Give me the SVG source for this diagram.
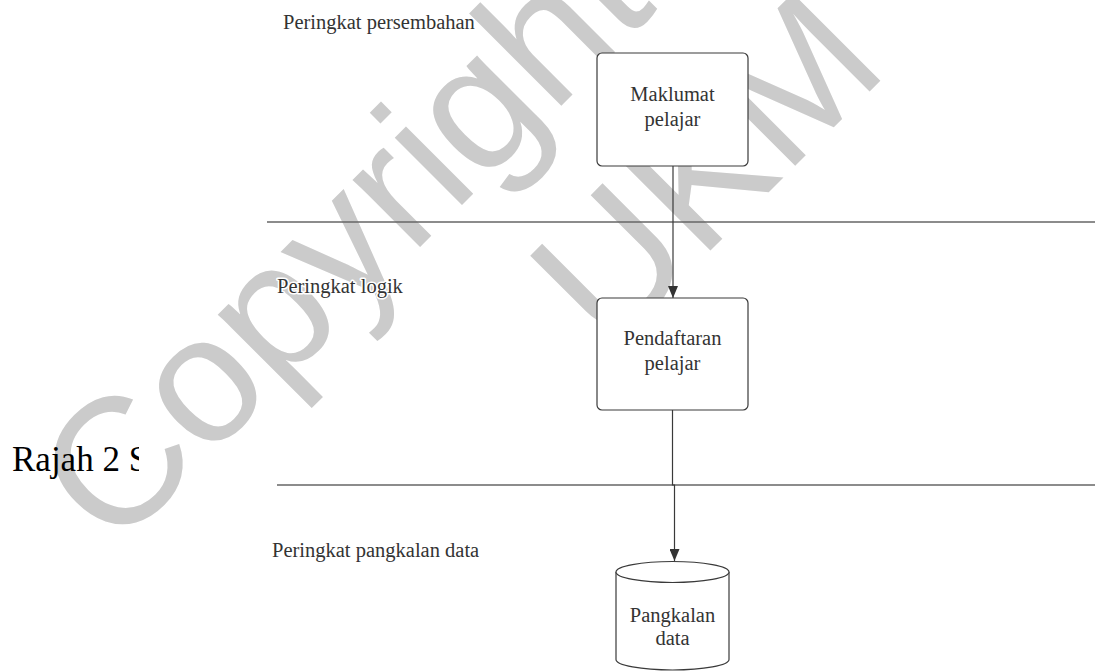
<svg xmlns="http://www.w3.org/2000/svg" width="1095" height="671" viewBox="0 0 1095 671">
<style>
.wm{font-family:"Liberation Sans",Arial,sans-serif;font-size:180px;fill:#cbcbcb}
.lbl{font-family:"Liberation Serif","Times New Roman",serif;font-size:20.5px;fill:#333333;stroke:#ffffff;stroke-width:3px;paint-order:stroke;stroke-linejoin:round}
.ctr{text-anchor:middle}
.node{fill:#ffffff;stroke:#3a3a3a;stroke-width:1.2}
.sep{stroke:#666666;stroke-width:1.5;fill:none}
.conn{stroke:#3a3a3a;stroke-width:1.2;fill:none}
</style>
<defs>
<marker id="arr" markerUnits="userSpaceOnUse" markerWidth="12" markerHeight="10" refX="12" refY="5" orient="auto">
<path d="M0,0 L12,5 L0,10 Z" fill="#333333"/>
</marker>
<clipPath id="capclip"><rect x="0" y="430" width="139" height="60"/></clipPath>
</defs>
<rect width="1095" height="671" fill="#ffffff"/>
<g id="watermark">
<text class="wm" transform="translate(114,553) rotate(-45)">Copyright</text>
<text class="wm" transform="translate(608,353) rotate(-45)">UKM</text>
</g>
<g id="caption" clip-path="url(#capclip)">
<text x="12" y="471" font-family="'Liberation Serif','Times New Roman',serif" font-size="35" fill="#000000">Rajah 2 S</text>
</g>
<g id="separators">
<line class="sep" x1="267" y1="222" x2="1095" y2="222"/>
<line class="sep" x1="277" y1="485" x2="1095" y2="485"/>
</g>
<g id="layer-labels">
<text class="lbl" x="283" y="29">Peringkat persembahan</text>
<text class="lbl" x="277" y="293">Peringkat logik</text>
<text class="lbl" x="272" y="557">Peringkat pangkalan data</text>
</g>
<g id="connectors">
<path class="conn" d="M673,166 V298" marker-end="url(#arr)"/>
<path class="conn" d="M672.5,410 V485 H674.5 V561" marker-end="url(#arr)"/>
</g>
<g id="node-maklumat">
<rect class="node" x="597" y="53" width="151" height="113" rx="5"/>
<text class="lbl ctr" x="672.5" y="101">Maklumat</text>
<text class="lbl ctr" x="672.5" y="126">pelajar</text>
</g>
<g id="node-pendaftaran">
<rect class="node" x="597" y="298" width="151" height="112" rx="5"/>
<text class="lbl ctr" x="672.5" y="345">Pendaftaran</text>
<text class="lbl ctr" x="672.5" y="370">pelajar</text>
</g>
<g id="node-pangkalan">
<path class="node" d="M616,572 A56.5,10.5 0 0 1 729,572 V659.5 A56.5,10.5 0 0 1 616,659.5 Z"/>
<path class="node" fill="none" d="M616,572 A56.5,10.5 0 0 0 729,572"/>
<text class="lbl ctr" x="672.5" y="622">Pangkalan</text>
<text class="lbl ctr" x="672.5" y="645">data</text>
</g>
</svg>
